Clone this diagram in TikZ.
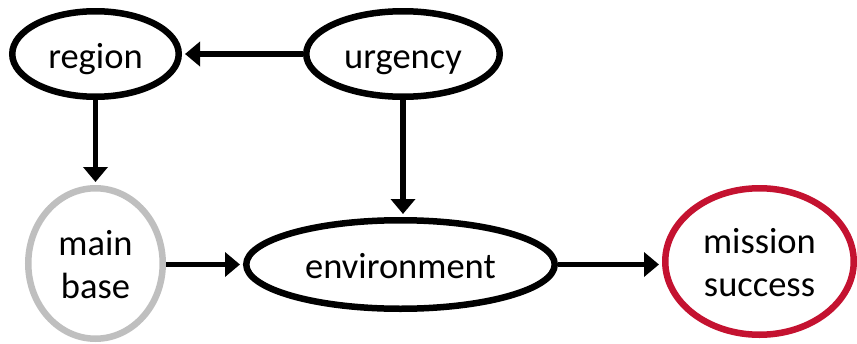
\documentclass[tikz,border=0pt]{standalone}
\usepackage{fontspec}
\setmainfont{Carlito}
\usetikzlibrary{arrows.meta,shapes.geometric}
\definecolor{baseGray}{RGB}{191,191,191}
\definecolor{goalRed}{RGB}{196,18,48}
\tikzset{
  var/.style={ellipse, draw=black, line width=6.5pt, fill=white, inner sep=0pt,
    align=center, font=\fontsize{36.5}{43}\selectfont},
  oneline/.style={text height=28pt, text depth=0pt},
  twoline/.style={text height=71pt, text depth=2pt},
  link/.style={line width=5.5pt, -{Triangle[length=15pt,width=24pt]}, shorten >=3pt}
}
\begin{document}
\begin{tikzpicture}[x=1pt,y=-1pt]
  \useasboundingbox (0,0) rectangle (857,343);
  \node[var, oneline, minimum width=166.5pt, minimum height=85.5pt] (region) at (95.5,54) {region};
  \node[var, oneline, minimum width=193.5pt, minimum height=85.5pt] (urgency) at (403,54) {urgency};
  \node[var, twoline, draw=baseGray, minimum width=134.5pt, minimum height=150.5pt] (mainbase) at (95.5,263.5) {main\\base};
  \node[var, oneline, minimum width=308.5pt, minimum height=88.5pt] (environment) at (400.5,264.5) {environment};
  \node[var, twoline, draw=goalRed, minimum width=188.5pt, minimum height=146.5pt] (mission) at (759.5,261.5) {mission\\success};

  \draw[link] (urgency.west) -- (region.east);
  \draw[link] (region.south) -- (mainbase.north);
  \draw[link] (urgency.south) -- (urgency.south |- environment.north);
  \draw[link] (mainbase.east |- environment.west) -- (environment.west);
  \draw[link] (environment.east) -- (environment.east -| mission.west);
\end{tikzpicture}
\end{document}
